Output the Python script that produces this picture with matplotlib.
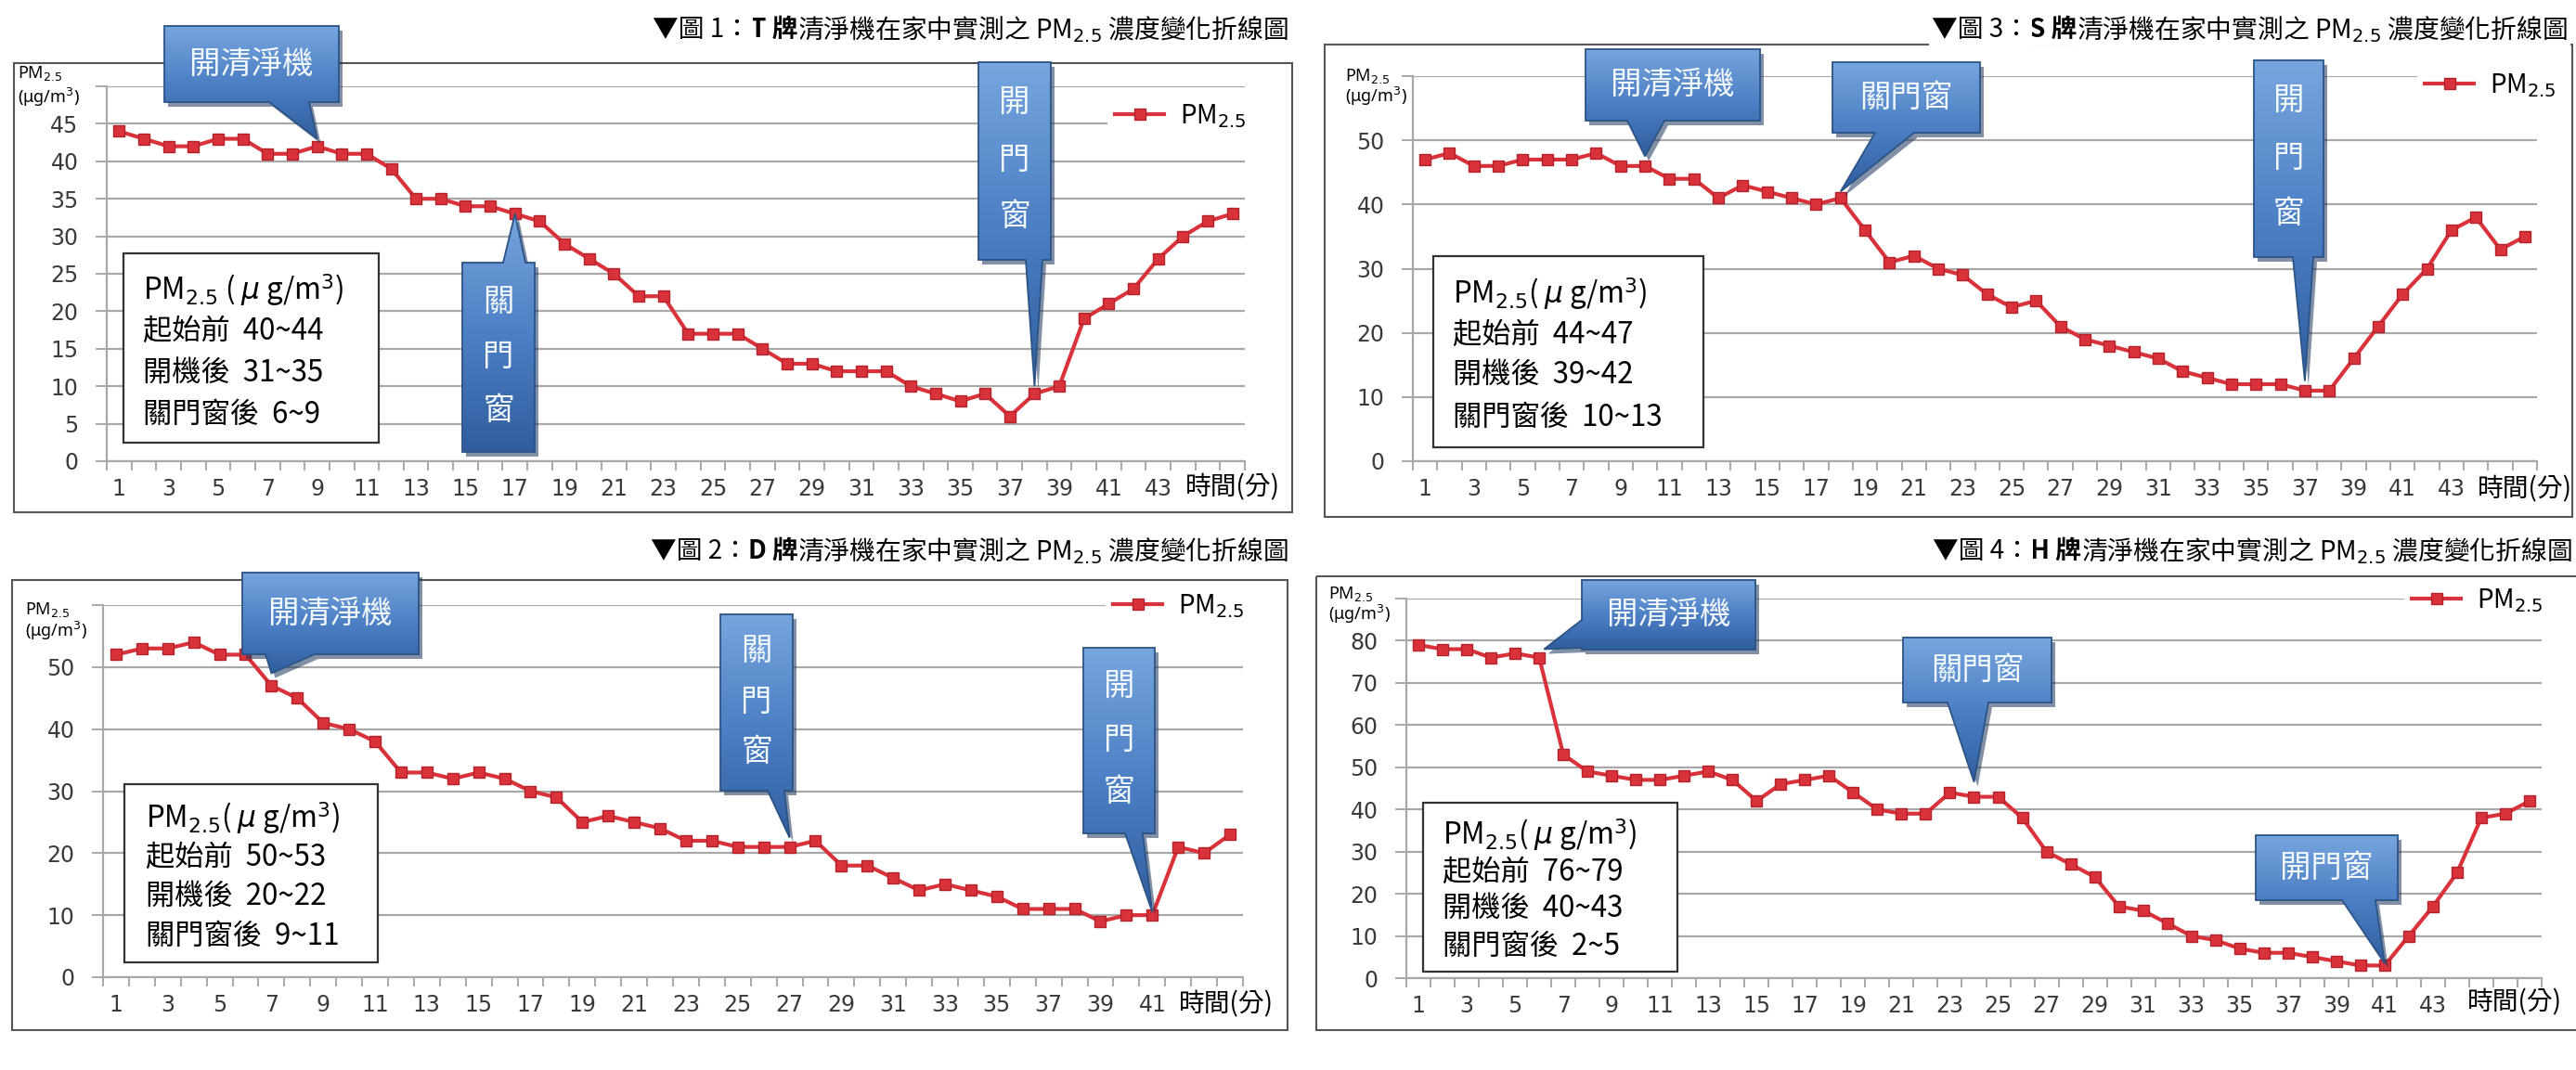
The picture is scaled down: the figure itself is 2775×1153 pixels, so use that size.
import numpy as np
import matplotlib
matplotlib.use("Agg")
import matplotlib.pyplot as plt
from matplotlib.patches import Polygon, Rectangle
from matplotlib.colors import LinearSegmentedColormap

plt.rcParams["font.family"] = ["Noto Sans CJK TC", "DejaVu Sans"]

W, H, DPI = 2775, 1153, 100

# ---- data: PM2.5 readings (μg/m³) once per minute ----
minutes_t = list(range(1, 47))
pm_t = [44, 43, 42, 42, 43, 43, 41, 41, 42, 41, 41, 39, 35, 35, 34, 34, 33, 32, 29, 27,
        25, 22, 22, 17, 17, 17, 15, 13, 13, 12, 12, 12, 10, 9, 8, 9, 6, 9, 10, 19,
        21, 23, 27, 30, 32, 33]
minutes_d = list(range(1, 45))
pm_d = [52, 53, 53, 54, 52, 52, 47, 45, 41, 40, 38, 33, 33, 32, 33, 32, 30, 29, 25, 26,
        25, 24, 22, 22, 21, 21, 21, 22, 18, 18, 16, 14, 15, 14, 13, 11, 11, 11, 9, 10,
        10, 21, 20, 23]
minutes_s = list(range(1, 47))
pm_s = [47, 48, 46, 46, 47, 47, 47, 48, 46, 46, 44, 44, 41, 43, 42, 41, 40, 41, 36, 31,
        32, 30, 29, 26, 24, 25, 21, 19, 18, 17, 16, 14, 13, 12, 12, 12, 11, 11, 16, 21,
        26, 30, 36, 38, 33, 35]
minutes_h = list(range(1, 48))
pm_h = [79, 78, 78, 76, 77, 76, 53, 49, 48, 47, 47, 48, 49, 47, 42, 46, 47, 48, 44, 40,
        39, 39, 44, 43, 43, 38, 30, 27, 24, 17, 16, 13, 10, 9, 7, 6, 6, 5, 4, 3,
        3, 10, 17, 25, 38, 39, 42]

xticks_t = list(range(1, 44, 2))
xticks_d = list(range(1, 42, 2))
xticks_s = list(range(1, 44, 2))
xticks_h = list(range(1, 44, 2))

stat_rows = ["起始前", "開機後", "關門窗後"]
stats_t = ["40~44", "31~35", "6~9"]
stats_d = ["50~53", "20~22", "9~11"]
stats_s = ["44~47", "39~42", "10~13"]
stats_h = ["76~79", "40~43", "2~5"]

brands = ["T", "D", "S", "H"]
fig_numbers = [1, 2, 3, 4]

# ---- styling ----
RED = "#D9323A"
RED_DARK = "#B3222B"
GRID = "#A8A8A8"
TICK_TXT = "#3A3A3A"
FRAME = "#555555"
BLUE_CMAP = LinearSegmentedColormap.from_list("callout", ["#77A6DE", "#4C80C4", "#2F5E9F"])

fig = plt.figure(figsize=(W / DPI, H / DPI), dpi=DPI)
fig.patch.set_facecolor("white")


def px_axes(left, top, right, bottom):
    return fig.add_axes([left / W, 1 - bottom / H, (right - left) / W, (bottom - top) / H])


def draw_panel(ax, minutes, values, ymax, ystep, xlabels):
    line, = ax.plot(minutes, values, color=RED, lw=3.0, marker="s", ms=8,
                    mfc=RED, mec=RED_DARK, mew=1.0, label="PM$_{2.5}$", zorder=3)
    ax.set_xlim(0.5, len(minutes) + 0.5)
    ax.set_ylim(0, ymax)
    yt = np.arange(0, ymax + ystep / 2, ystep)
    ax.set_yticks(yt)
    ax.set_yticklabels([str(int(v)) for v in yt[:-1]] + [""])
    ax.yaxis.grid(True, color=GRID, lw=1.6)
    ax.set_axisbelow(True)
    ax.set_xticks(xlabels)
    ax.set_xticklabels([str(v) for v in xlabels])
    ax.set_xticks(np.arange(0.5, len(minutes) + 1, 1), minor=True)
    ax.tick_params(axis="x", which="major", length=0, pad=13, labelsize=17, labelcolor=TICK_TXT)
    ax.tick_params(axis="x", which="minor", length=7, width=1.4, color=GRID, direction="out")
    ax.tick_params(axis="y", which="major", length=9, width=1.4, color=GRID, pad=13,
                   labelsize=17, labelcolor=TICK_TXT)
    for lbl in ax.get_xticklabels() + ax.get_yticklabels():
        lbl.set_fontfamily("DejaVu Sans")
    for s in ["top", "right"]:
        ax.spines[s].set_visible(False)
    for s in ["left", "bottom"]:
        ax.spines[s].set_color(GRID)
        ax.spines[s].set_linewidth(1.6)
    ax.patch.set_alpha(0)
    return line


# plot areas (pixel boxes: left, top, right, bottom)
ax_t = px_axes(115, 93, 1341, 497)
ax_d = px_axes(111, 652, 1339, 1053)
ax_s = px_axes(1522, 82, 2733, 497)
ax_h = px_axes(1515, 645, 2738, 1054)

ln_t = draw_panel(ax_t, minutes_t, pm_t, 50, 5, xticks_t)
ln_d = draw_panel(ax_d, minutes_d, pm_d, 60, 10, xticks_d)
ln_s = draw_panel(ax_s, minutes_s, pm_s, 60, 10, xticks_s)
ln_h = draw_panel(ax_h, minutes_h, pm_h, 90, 10, xticks_h)

# legends
for ax, (lx, ly) in [(ax_t, (1193, 125)), (ax_d, (1191, 653)),
                     (ax_s, (2604, 92)), (ax_h, (2590, 647))]:
    leg = ax.legend(loc="center left", bbox_to_anchor=(lx / W, 1 - ly / H),
                    bbox_transform=fig.transFigure, fontsize=20, frameon=True,
                    handlelength=1.9, handletextpad=0.6, borderpad=0.3, borderaxespad=0)
    leg.get_frame().set_facecolor("white")
    leg.get_frame().set_edgecolor("none")
    leg.get_frame().set_alpha(1)

# overlay in pixel coordinates (y downwards)
ov = fig.add_axes([0, 0, 1, 1], zorder=10)
ov.set_xlim(0, W)
ov.set_ylim(H, 0)
ov.axis("off")
ov.patch.set_alpha(0)


def to_px(ax, x, y):
    dx, dy = ax.transData.transform((x, y))
    return dx, H - dy


# outer frames
for (x0, y0, x1, y1) in [(15, 68, 1392, 552), (13, 625, 1387, 1110),
                         (1427, 48, 2771, 557), (1418, 621, 2800, 1110)]:
    ov.add_patch(Rectangle((x0, y0), x1 - x0, y1 - y0, fill=False, ec=FRAME, lw=1.5, zorder=1))

# titles
renderer = fig.canvas.get_renderer()


def title(num, brand, x, y):
    segs = [("▼圖 %d：" % num, "normal"), ("%s 牌" % brand, "bold"),
            ("清淨機在家中實測之 PM$_{2.5}$ 濃度變化折線圖", "normal")]
    kw = dict(va="center", fontsize=20, color="black", zorder=8,
              bbox=dict(fc="white", ec="none", pad=2))
    cx = x
    for s, w in reversed(segs):
        t = ov.text(cx, y, s, ha="right", fontweight=w, **kw)
        cx -= t.get_window_extent(renderer).width


title(fig_numbers[0], brands[0], 1388, 32)
title(fig_numbers[1], brands[1], 1388, 594)
title(fig_numbers[2], brands[2], 2766, 32)
title(fig_numbers[3], brands[3], 2771, 594)

# y-axis unit labels
for (x, y1, y2) in [(19, 79, 105), (27, 657, 680), (1449, 82, 104), (1431, 640, 662)]:
    ov.text(x, y1, "PM$_{2.5}$", ha="left", va="center", fontsize=13, family="Noto Sans")
    ov.text(x, y2, "(μg/m$^3$)", ha="left", va="center", fontsize=13, family="Noto Sans")

# x-axis unit labels
for (x, y) in [(1277, 525), (1270, 1082), (2669, 527), (2658, 1080)]:
    ov.text(x, y, "時間(分)", ha="left", va="center", fontsize=20)

# summary boxes
boxes = [((133, 273, 408, 477), 154, [313, 357, 403, 447], stats_t, "PM$_{2.5}$ ( $\\mu$ g/m$^3$)"),
         ((134, 845, 407, 1037), 157, [882, 924, 967, 1009], stats_d, "PM$_{2.5}$( $\\mu$ g/m$^3$)"),
         ((1544, 276, 1835, 482), 1565, [317, 361, 405, 450], stats_s, "PM$_{2.5}$( $\\mu$ g/m$^3$)"),
         ((1533, 865, 1807, 1047), 1554, [900, 940, 980, 1020], stats_h, "PM$_{2.5}$( $\\mu$ g/m$^3$)")]
for (x0, y0, x1, y1), tx, ys, vals, head in boxes:
    ov.add_patch(Rectangle((x0, y0), x1 - x0, y1 - y0, fc="white", ec="#333333", lw=1.6, zorder=2))
    ov.text(tx, ys[0], head, ha="left", va="center", fontsize=22.5, zorder=3)
    for row, val, yy in zip(stat_rows, vals, ys[1:]):
        ov.text(tx, yy, "%s  %s" % (row, val), ha="left", va="center", fontsize=22.5, zorder=3)


def callout(box, side, base, tip, text, vertical=False, size=24):
    x0, y0, x1, y1 = box
    tx, ty = tip
    if side == "bottom":
        verts = [(x0, y0), (x1, y0), (x1, y1), (base[1], y1), (tx, ty), (base[0], y1), (x0, y1)]
    elif side == "top":
        verts = [(x0, y0), (base[0], y0), (tx, ty), (base[1], y0), (x1, y0), (x1, y1), (x0, y1)]
    else:
        verts = [(x0, y0), (x1, y0), (x1, y1), (x0, y1), (x0, base[1]), (tx, ty), (x0, base[0])]
    ov.add_patch(Polygon([(vx + 4, vy + 5) for vx, vy in verts], closed=True,
                         fc="#1C365C", ec="none", alpha=0.55, zorder=4))
    poly = Polygon(verts, closed=True, fc="none", ec="#2C5385", lw=1.3, zorder=6)
    ov.add_patch(poly)
    xs = [v[0] for v in verts]
    ys = [v[1] for v in verts]
    grad = np.linspace(0, 1, 256).reshape(-1, 1)
    im = ov.imshow(grad, cmap=BLUE_CMAP, extent=(min(xs), max(xs), max(ys), min(ys)),
                   origin="upper", aspect="auto", zorder=5, interpolation="bilinear")
    im.set_clip_path(poly)
    if vertical:
        h = y1 - y0
        for i, ch in enumerate(text):
            ov.text((x0 + x1) / 2, y0 + h * (0.21 + 0.285 * i), ch, ha="center", va="center",
                    fontsize=size, color="#F4F8FF", zorder=7)
    else:
        ov.text((x0 + x1) / 2, (y0 + y1) / 2, text, ha="center", va="center",
                fontsize=size, color="#F4F8FF", zorder=7)


# event markers
callout((177, 28, 365, 110), "bottom", (290, 333), to_px(ax_t, 9, 43), "開清淨機")
callout((498, 283, 576, 487), "top", (542, 566), to_px(ax_t, 17, 33), "關門窗", vertical=True)
callout((1054, 67, 1132, 280), "bottom", (1105, 1123), to_px(ax_t, 38, 10), "開門窗", vertical=True)

callout((261, 617, 451, 705), "bottom", (286, 339), to_px(ax_d, 7, 49), "開清淨機")
callout((776, 662, 854, 852), "bottom", (827, 845), to_px(ax_d, 27, 22.5), "關門窗", vertical=True)
callout((1167, 698, 1244, 898), "bottom", (1212, 1231), to_px(ax_d, 41, 10.5), "開門窗", vertical=True)

callout((1708, 53, 1896, 130), "bottom", (1753, 1793), to_px(ax_s, 10, 47.5), "開清淨機")
callout((1974, 67, 2133, 143), "bottom", (2020, 2062), to_px(ax_s, 18, 42), "關門窗")
callout((2428, 65, 2503, 277), "bottom", (2470, 2492), to_px(ax_s, 37, 12.5), "開門窗", vertical=True)

callout((1704, 625, 1891, 700), "left", (668, 698), to_px(ax_h, 6.2, 78), "開清淨機")
callout((2050, 687, 2210, 757), "bottom", (2098, 2142), to_px(ax_h, 24, 46.5), "關門窗")
callout((2430, 900, 2583, 970), "bottom", (2523, 2559), to_px(ax_h, 41, 3.5), "開門窗")

ov.set_xlim(0, W)
ov.set_ylim(H, 0)

fig.savefig("out.png", dpi=DPI, facecolor="white")
